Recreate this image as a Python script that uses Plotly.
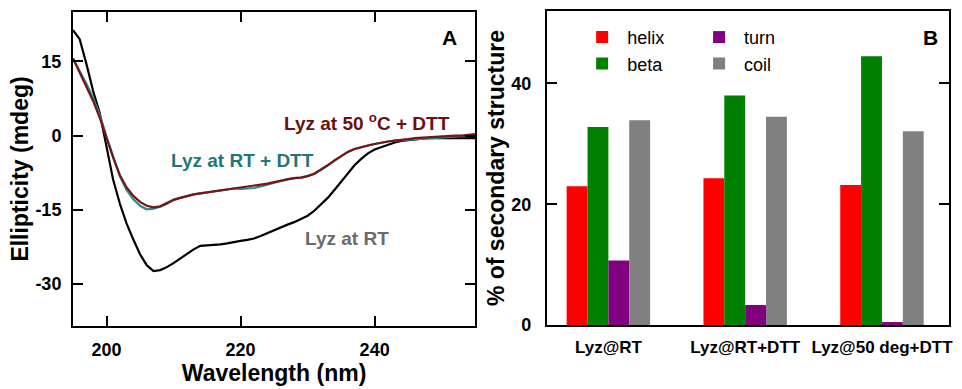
import plotly.graph_objects as go

# ---------------- Panel A data: CD spectra ----------------
wavelength = list(range(195, 256))

lyz_rt = [21.3, 19.5, 14.5, 9.0, 4.5, -2.0, -9.0, -13.8, -17.8, -21.0,
          -24.0, -26.2, -27.4, -27.2, -26.6, -25.8, -24.9, -24.0, -23.0, -22.3,
          -22.2, -22.2, -22.0, -21.8, -21.5, -21.3, -21.1, -20.8, -20.3, -19.7,
          -19.1, -18.5, -18.0, -17.5, -16.9, -16.2, -15.2, -13.9, -12.6, -11.0,
          -9.3, -7.6, -6.0, -4.7, -3.6, -2.8, -2.3, -1.8, -1.4, -1.1,
          -0.9, -0.7, -0.6, -0.5, -0.5, -0.5, -0.5, -0.5, -0.5, -0.5, -0.5]

lyz_rt_dtt = [15.6, 13.2, 10.5, 7.6, 4.2, -0.2, -4.5, -8.3, -11.0, -12.9,
              -14.2, -14.9, -14.8, -14.4, -13.8, -13.0, -12.6, -12.2, -11.9, -11.7,
              -11.5, -11.3, -11.1, -10.9, -10.7, -10.8, -10.7, -10.6, -10.3, -9.9,
              -9.6, -9.2, -8.8, -8.6, -8.5, -8.2, -7.7, -6.9, -6.0, -5.0,
              -4.1, -3.3, -2.7, -2.3, -2.0, -1.7, -1.4, -1.2, -1.0, -0.9,
              -0.8, -0.7, -0.6, -0.5, -0.4, -0.3, -0.2, -0.2, -0.1, -0.1, 0.0]

lyz_50_dtt = [15.6, 12.8, 9.8, 7.0, 3.6, -0.5, -4.5, -8.0, -10.5, -12.2,
              -13.4, -14.2, -14.5, -14.3, -13.7, -13.0, -12.6, -12.2, -11.9, -11.7,
              -11.5, -11.3, -11.1, -10.9, -10.7, -10.6, -10.4, -10.2, -10.0, -9.7,
              -9.4, -9.1, -8.8, -8.6, -8.5, -8.2, -7.7, -6.9, -6.0, -5.0,
              -4.1, -3.3, -2.7, -2.3, -2.0, -1.7, -1.4, -1.2, -1.0, -0.9,
              -0.7, -0.5, -0.4, -0.3, -0.2, -0.1, 0.0, 0.0, 0.0, 0.1, 0.3]

ellip_ticks = [-30, -15, 0, 15]
ellip_ticktext = ["-30", "-15", "0", "15"]
wl_ticks = [200, 220, 240]

# ---------------- Panel B data: secondary structure ----------------
samples = ["Lyz@RT", "Lyz@RT+DTT", "Lyz@50 deg+DTT"]
helix = [23.0, 24.3, 23.2]
beta = [32.8, 38.0, 44.5]
turn = [10.7, 3.3, 0.5]
coil = [33.9, 34.5, 32.1]
pct_ticks = [0, 20, 40]

FONT = "Liberation Sans, Arial, sans-serif"

fig = go.Figure()

fig.add_trace(go.Scatter(x=wavelength, y=lyz_rt, mode="lines", name="Lyz at RT",
                         line=dict(color="#000000", width=2.2), showlegend=False,
                         xaxis="x", yaxis="y"))
fig.add_trace(go.Scatter(x=wavelength, y=lyz_rt_dtt, mode="lines", name="Lyz at RT + DTT",
                         line=dict(color="#2a8c8c", width=2.2), showlegend=False,
                         xaxis="x", yaxis="y"))
fig.add_trace(go.Scatter(x=wavelength, y=lyz_50_dtt, mode="lines", name="Lyz at 50 °C + DTT",
                         line=dict(color="#7a1414", width=2.2), showlegend=False,
                         xaxis="x", yaxis="y"))

bar_series = [("helix", helix, "#ff0000", "legend"),
              ("beta", beta, "#008000", "legend"),
              ("turn", turn, "#800080", "legend2"),
              ("coil", coil, "#808080", "legend2")]
for name, vals, col, lg in bar_series:
    fig.add_trace(go.Bar(x=samples, y=vals, name=name, marker=dict(color=col, line=dict(width=0)),
                         xaxis="x2", yaxis="y2", legend=lg))

axis_common = dict(showline=True, linewidth=2, linecolor="black", mirror="allticks",
                   ticks="inside", ticklen=10, tickwidth=2, tickcolor="black",
                   showgrid=False, zeroline=False,
                   tickfont=dict(family=FONT, size=18, color="black", weight="bold"))

fig.update_layout(
    width=962, height=389,
    margin=dict(l=73, r=9, t=11, b=59),
    paper_bgcolor="white", plot_bgcolor="white",
    font=dict(family=FONT, color="black"),
    barmode="group", bargap=0.39, bargroupgap=0,
    xaxis=dict(domain=[0, 0.4591], range=[195, 255], tickvals=wl_ticks,
               ticklabelstandoff=6,
               title=dict(text="Wavelength (nm)", standoff=4,
                          font=dict(family=FONT, size=23, weight="bold")),
               anchor="y", **axis_common),
    yaxis=dict(domain=[0, 0.997], range=[-38.5, 25], tickvals=ellip_ticks,
               ticktext=ellip_ticktext, ticklabelstandoff=6,
               title=dict(text="Ellipticity (mdeg)", standoff=0,
                          font=dict(family=FONT, size=23, weight="bold")),
               anchor="x", **axis_common),
    xaxis2=dict(domain=[0.5409, 1.0], range=[-0.45, 2.49], anchor="y2",
                showline=True, linewidth=2, linecolor="black", mirror=True,
                ticks="", showgrid=False, zeroline=False, ticklabelstandoff=6,
                tickfont=dict(family=FONT, size=17, color="black", weight="bold")),
    yaxis2=dict(domain=[0.003, 1.0], range=[0, 52], tickvals=pct_ticks, anchor="x2",
                ticklabelstandoff=10,
                title=dict(text="% of secondary structure", standoff=0,
                           font=dict(family=FONT, size=23, weight="bold")),
                **axis_common),
    legend=dict(x=0.5755, y=0.975, xanchor="left", yanchor="top",
                bgcolor="rgba(0,0,0,0)", itemwidth=40, tracegroupgap=0,
                font=dict(family=FONT, size=18, color="black")),
    legend2=dict(x=0.709, y=0.975, xanchor="left", yanchor="top",
                 bgcolor="rgba(0,0,0,0)", itemwidth=40, tracegroupgap=0,
                 font=dict(family=FONT, size=18, color="black")),
    annotations=[
        dict(text="A", x=0.935, y=0.919, xref="x domain", yref="y domain", showarrow=False,
             xanchor="center", yanchor="middle",
             font=dict(family=FONT, size=21, weight="bold", color="black")),
        dict(text="B", x=0.955, y=0.916, xref="x2 domain", yref="y2 domain", showarrow=False,
             xanchor="center", yanchor="middle",
             font=dict(family=FONT, size=21, weight="bold", color="black")),
        dict(text="Lyz at 50 <sup>o</sup>C + DTT", x=238.8, y=2.7, xref="x", yref="y",
             showarrow=False, font=dict(family=FONT, size=19, weight="bold", color="#6a1010")),
        dict(text="Lyz at RT + DTT", x=220.3, y=-5.1, xref="x", yref="y",
             showarrow=False, font=dict(family=FONT, size=19, weight="bold", color="#1e7878")),
        dict(text="Lyz at RT", x=235.9, y=-20.9, xref="x", yref="y",
             showarrow=False, font=dict(family=FONT, size=19, weight="bold", color="#6b6b6b")),
    ],
)

fig.write_html("out.html", config={"displayModeBar": False},
               post_script="document.body.style.margin='0px';document.body.style.overflow='hidden';")
